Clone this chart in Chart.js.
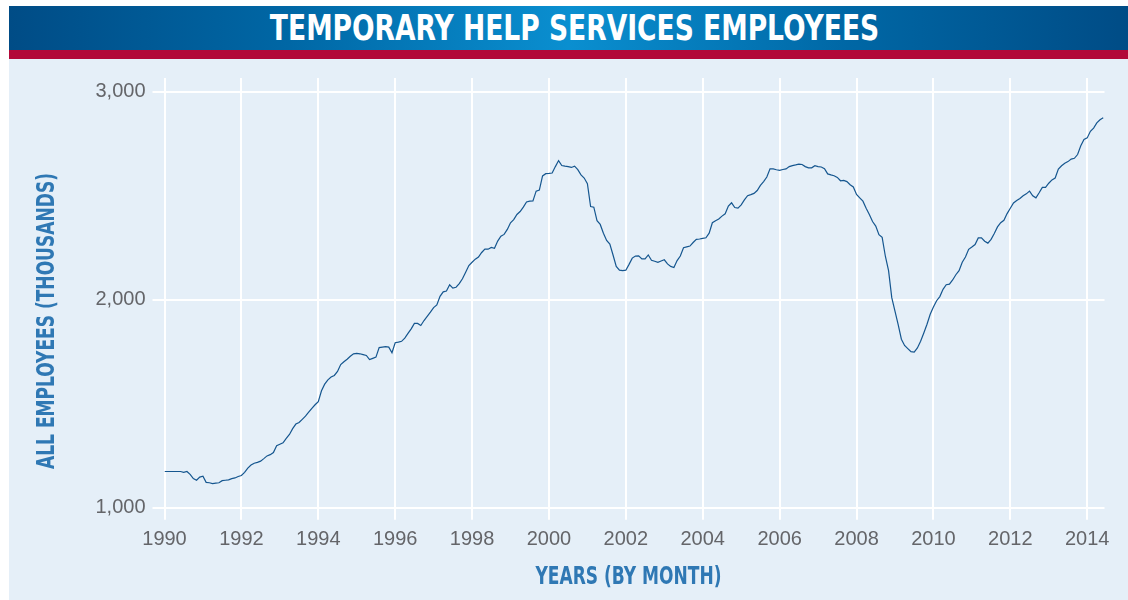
<!DOCTYPE html>
<html>
<head>
<meta charset="utf-8">
<script src="https://cdn.jsdelivr.net/npm/chart.js@4/dist/chart.umd.min.js"></script>
<style>
  body { margin: 0; background: #fff; }
  #frame { position: absolute; left: 9px; top: 6px; width: 1119px; height: 594px; }
  .banner {
    height: 44px; line-height: 44px; text-align: center; color: #fff;
    background: linear-gradient(to right, #004c86 0%, #0067a5 25%, #0a8fd0 50%, #0067a5 75%, #004c86 100%);
  }
  .banner span {
    display: inline-block; transform: scaleX(0.82); margin-left: 13px;
    font-family: 'DejaVu Sans Condensed', 'DejaVu Sans', sans-serif;
    font-weight: bold; font-size: 36px;
  }
  .stripe { height: 9px; background: #b20838; }
  .plot { position: relative; width: 1119px; height: 541px; background: #e5eff8; }
</style>
</head>
<body>
<div id="frame">
  <div class="banner"><span>TEMPORARY HELP SERVICES EMPLOYEES</span></div>
  <div class="stripe"></div>
  <div class="plot"><canvas id="chart"></canvas></div>
</div>
<script>
// monthly series, Jan 1990 - Jun 2014 (thousands)
const startYear = 1990;
const xTicks = [1990, 1992, 1994, 1996, 1998, 2000, 2002, 2004, 2006, 2008, 2010, 2012, 2014];
const yTicks = [1000, 2000, 3000];
const xTitle = 'YEARS (BY MONTH)';
const yTitle = 'ALL EMPLOYEES (THOUSANDS)';
const employees = [
  1174,1174,1174,1174,1174,1174,1170,1174,1160,1140,1132,1147, // 1990
  1151,1122,1120,1116,1118,1120,1130,1132,1134,1140,1143,1150, // 1991
  1155,1170,1190,1205,1214,1218,1224,1236,1249,1255,1265,1298, // 1992
  1305,1312,1333,1352,1380,1402,1410,1425,1440,1459,1478,1495, // 1993
  1510,1562,1594,1615,1628,1636,1655,1688,1702,1714,1728,1740, // 1994
  1742,1740,1736,1732,1712,1718,1724,1770,1772,1774,1772,1745, // 1995
  1793,1796,1800,1815,1838,1860,1886,1886,1876,1900,1920,1940, // 1996
  1962,1975,2016,2038,2042,2072,2056,2060,2077,2101,2132,2164, // 1997
  2180,2195,2205,2227,2243,2243,2251,2247,2282,2305,2314,2338, // 1998
  2370,2385,2410,2424,2445,2470,2474,2475,2522,2527,2595,2606, // 1999
  2607,2609,2640,2669,2645,2642,2640,2636,2642,2625,2600,2585, // 2000
  2558,2448,2445,2380,2362,2320,2285,2268,2215,2160,2142,2140, // 2001
  2142,2170,2200,2210,2211,2196,2196,2215,2190,2185,2180,2186, // 2002
  2192,2172,2160,2155,2188,2210,2250,2254,2258,2275,2290,2292, // 2003
  2295,2298,2320,2370,2380,2388,2402,2413,2450,2466,2443,2440, // 2004
  2456,2480,2500,2505,2511,2525,2550,2568,2590,2629,2629,2625, // 2005
  2622,2626,2629,2640,2645,2648,2652,2650,2640,2634,2634,2644, // 2006
  2640,2638,2630,2605,2600,2596,2588,2572,2574,2568,2553,2542, // 2007
  2506,2490,2474,2440,2410,2376,2354,2313,2300,2209,2140,2010, // 2008
  1945,1880,1810,1780,1765,1750,1748,1768,1800,1840,1882,1930, // 2009
  1965,1995,2015,2050,2072,2075,2095,2120,2140,2180,2205,2242, // 2010
  2253,2265,2297,2297,2281,2272,2290,2318,2350,2370,2382,2414, // 2011
  2440,2465,2477,2487,2500,2509,2522,2500,2490,2514,2540,2540, // 2012
  2560,2576,2585,2628,2644,2656,2664,2676,2680,2698,2740,2770, // 2013
  2778,2810,2825,2850,2865,2875                                // 2014
];

const points = employees.map((v, i) => ({ x: startYear + i / 12, y: v }));

const tickFont = { family: "'Liberation Sans', Arial, sans-serif", size: 20 };

// axis titles drawn squeezed, the original uses a condensed face
const axisTitles = {
  id: 'axisTitles',
  afterDraw(chart, args, opts) {
    const { ctx, chartArea } = chart;
    ctx.save();
    ctx.fillStyle = opts.color;
    ctx.font = opts.font;
    ctx.textAlign = 'center';
    ctx.textBaseline = 'middle';

    ctx.save();
    ctx.translate((chartArea.left + chartArea.right) / 2 - 6, chartArea.bottom + 70);
    ctx.scale(opts.squeeze, 1);
    ctx.fillText(opts.x, 0, 0);
    ctx.restore();

    ctx.save();
    ctx.translate(38.5, chart.height / 2 - 8.5);
    ctx.rotate(-Math.PI / 2);
    ctx.scale(opts.squeeze, 1);
    ctx.fillText(opts.y, 0, 0);
    ctx.restore();

    ctx.restore();
  }
};

new Chart(document.getElementById('chart'), {
  type: 'line',
  data: {
    datasets: [{
      label: 'Temporary help services employees',
      data: points,
      borderColor: '#15568f',
      borderWidth: 1.2,
      pointRadius: 0,
      tension: 0,
      fill: false
    }]
  },
  options: {
    responsive: true,
    maintainAspectRatio: false,
    animation: false,
    layout: { padding: { top: 15.5, right: 23.5, left: 0, bottom: 0 } },
    plugins: {
      legend: { display: false },
      tooltip: { enabled: false },
      axisTitles: {
        x: xTitle,
        y: yTitle,
        color: '#2f78b4',
        font: "bold 24px 'DejaVu Sans Condensed', 'DejaVu Sans', sans-serif",
        squeeze: 0.79
      }
    },
    scales: {
      x: {
        type: 'linear',
        min: 1990,
        max: 2014.45,
        afterBuildTicks: axis => { axis.ticks = xTicks.map(v => ({ value: v })); },
        afterFit: scale => { scale.height = 92.3; },
        grid: { color: '#ffffff', lineWidth: 2, tickLength: 12 },
        border: { display: false },
        ticks: { font: tickFont, color: '#646569', padding: 8, maxRotation: 0, autoSkip: false, callback: v => String(v) }
      },
      y: {
        min: 1000,
        max: 3066,
        afterBuildTicks: axis => { axis.ticks = yTicks.map(v => ({ value: v })); },
        afterFit: scale => { scale.width = 155.5; },
        grid: { color: '#ffffff', lineWidth: 2, tickLength: 12 },
        border: { display: false },
        ticks: { font: tickFont, color: '#646569', padding: 7, callback: v => v.toLocaleString('en-US') }
      }
    }
  },
  plugins: [axisTitles]
});
</script>
</body>
</html>
